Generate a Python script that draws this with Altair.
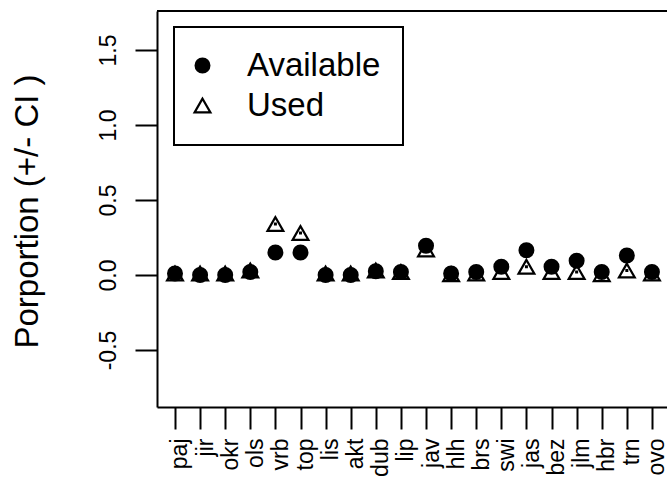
import altair as alt
import pandas as pd

categories = ["paj", "jir", "okr", "ols", "vrb", "top", "lis", "akt", "dub", "lip",
              "jav", "hlh", "brs", "swi", "jas", "bez", "jlm", "hbr", "trn", "ovo"]
available = [0.01, 0.0, 0.0, 0.02, 0.15, 0.15, 0.0, 0.0, 0.025, 0.02,
             0.195, 0.01, 0.02, 0.055, 0.165, 0.055, 0.095, 0.02, 0.13, 0.02]
used = [0.01, 0.01, 0.01, 0.03, 0.34, 0.28, 0.01, 0.01, 0.03, 0.02,
        0.17, 0.005, 0.01, 0.02, 0.055, 0.02, 0.02, 0.005, 0.03, 0.01]
available_ci = [0.008] * 20
used_ci = [0.01] * 20
series_names = ["Available", "Used"]
y_ticks = [-0.5, 0.0, 0.5, 1.0, 1.5]

rows = []
for name, vals, cis in [("Available", available, available_ci), ("Used", used, used_ci)]:
    for i, c in enumerate(categories):
        rows.append({"idx": i + 1, "cat": c, "series": name, "value": vals[i],
                     "lo": vals[i] - cis[i], "hi": vals[i] + cis[i]})
df = pd.DataFrame(rows)

W, H = 510, 396
FONT = "Liberation Sans"
label_array = "[" + ",".join("'%s'" % c for c in categories) + "]"

x_scale = alt.Scale(domain=[0.283, 20.6], nice=False, zero=False)
y_scale = alt.Scale(domain=[-0.88, 1.76], nice=False, zero=False)

x_axis = alt.Axis(values=list(range(1, len(categories) + 1)),
                  labelExpr=label_array + "[datum.value - 1]",
                  labelAngle=270, labelAlign="right", labelBaseline="alphabetic",
                  labelOffset=12, labelPadding=9, labelFontSize=23, labelFont=FONT,
                  labelColor="black", labelOverlap=False, labelFlush=False,
                  tickSize=22, tickColor="black", tickWidth=2,
                  domainColor="black", domainWidth=2, grid=False, title=None)

y_axis = alt.Axis(values=y_ticks, format=".1f",
                  labelExpr="replace(datum.label, '\u2212', '-')",
                  labelAngle=270, labelAlign="center", labelBaseline="alphabetic",
                  labelPadding=20, labelFontSize=23, labelFont=FONT, labelColor="black",
                  labelOverlap=False, labelFlush=False,
                  tickSize=22, tickColor="black", tickWidth=2,
                  domainColor="black", domainWidth=2, grid=False,
                  title="Porportion (+/- CI )", titleAngle=270, titleX=-120, titleY=200,
                  titleAlign="center", titleBaseline="alphabetic", titleFontSize=33,
                  titleFont=FONT, titleFontWeight="normal", titleColor="black")

base = alt.Chart(df)

bars = base.mark_rule(color="black", strokeWidth=3).encode(
    x=alt.X("idx:Q", scale=x_scale, axis=x_axis),
    y=alt.Y("lo:Q", scale=y_scale, axis=y_axis),
    y2="hi:Q",
)

points = base.mark_point(strokeWidth=2.2, opacity=1).encode(
    x=alt.X("idx:Q", scale=x_scale, axis=x_axis),
    y=alt.Y("value:Q", scale=y_scale, axis=y_axis),
    shape=alt.Shape("series:N", scale=alt.Scale(domain=series_names, range=["circle", "triangle-up"]),
                    title=None),
    fill=alt.Fill("series:N", scale=alt.Scale(domain=series_names, range=["black", "transparent"]),
                  title=None),
    stroke=alt.Stroke("series:N", scale=alt.Scale(domain=series_names, range=["black", "black"]),
                      title=None),
    size=alt.Size("series:N", scale=alt.Scale(domain=series_names, range=[190, 250]),
                  title=None),
)

top_line = alt.Chart(df).mark_rule(color="black", strokeWidth=2).encode(
    x=alt.value(0), x2=alt.value(W), y=alt.value(0)
)

chart = alt.layer(bars, points, top_line).properties(
    width=W, height=H,
    autosize=alt.AutoSizeParams(type="none"),
    padding={"left": 157, "top": 11, "right": 0, "bottom": 76},
    background="white",
).configure_view(strokeWidth=0).configure_legend(
    orient="none", legendX=17, legendY=16,
    padding=22, strokeColor="black", strokeWidth=2, fillColor="white",
    symbolStrokeWidth=2.2, symbolOffset=-10,
    labelOffset=28, labelFontSize=33, labelFont=FONT, labelColor="black",
    rowPadding=6, labelBaseline="middle",
)

chart.save("out.html", embed_options={"renderer": "svg", "actions": False})
